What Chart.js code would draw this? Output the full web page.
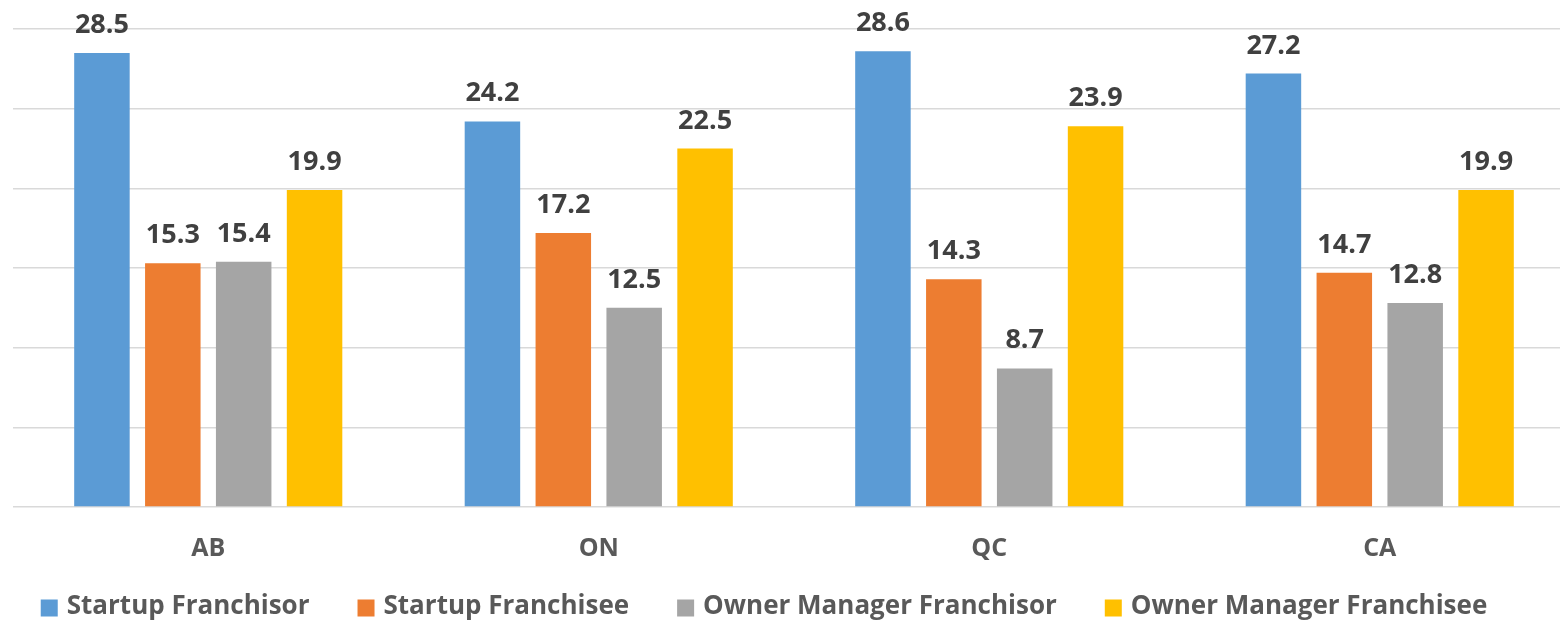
<!DOCTYPE html>
<html>
<head>
<meta charset="utf-8">
<script src="https://cdn.jsdelivr.net/npm/chart.js@4.4.1/dist/chart.umd.min.js"></script>
<style>
  html, body { margin: 0; padding: 0; background: #fff; overflow: hidden; }
</style>
</head>
<body>
<canvas id="chart" width="1576" height="626"></canvas>
<script>
const regions = ['AB', 'ON', 'QC', 'CA'];
const seriesNames = ['Startup Franchisor', 'Startup Franchisee', 'Owner Manager Franchisor', 'Owner Manager Franchisee'];
const startupFranchisor = [28.5, 24.2, 28.6, 27.2];
const startupFranchisee = [15.3, 17.2, 14.3, 14.7];
const ownerFranchisor = [15.4, 12.5, 8.7, 12.8];
const ownerFranchisee = [19.9, 22.5, 23.9, 19.9];
const barColors = ['#5B9BD5', '#ED7D31', '#A5A5A5', '#FFC000'];

const FONT = '"Open Sans", "DejaVu Sans", sans-serif';

// value labels above each bar
const barLabels = {
  id: 'barLabels',
  afterDatasetsDraw(chart) {
    const ctx = chart.ctx;
    ctx.save();
    ctx.font = 'bold 27px ' + FONT;
    ctx.fillStyle = '#404040';
    ctx.textAlign = 'center';
    ctx.textBaseline = 'alphabetic';
    chart.data.datasets.forEach((ds, i) => {
      chart.getDatasetMeta(i).data.forEach((bar, j) => {
        ctx.fillText(ds.data[j].toFixed(1), bar.x, bar.y - 20);
      });
    });
    ctx.restore();
  }
};

// legend row with wide gaps between entries (like the Excel one)
const wideLegend = {
  id: 'wideLegend',
  afterDraw(chart) {
    const ctx = chart.ctx;
    const box = 17, boxGap = 9, itemGap = 48, centerX = 764, y = 607;
    ctx.save();
    ctx.font = 'bold 26px ' + FONT;
    ctx.textBaseline = 'middle';
    ctx.textAlign = 'left';
    const items = chart.data.datasets.map(ds => ({
      text: ds.label,
      color: ds.backgroundColor,
      w: ctx.measureText(ds.label).width
    }));
    const total = items.reduce((s, it) => s + box + boxGap + it.w, 0) + itemGap * (items.length - 1);
    let x = centerX - total / 2;
    items.forEach(it => {
      ctx.fillStyle = it.color;
      ctx.fillRect(x, y - box / 2 + 1, box, box);
      ctx.fillStyle = '#595959';
      ctx.fillText(it.text, x + box + boxGap, y);
      x += box + boxGap + it.w + itemGap;
    });
    ctx.restore();
  }
};

const seriesData = [startupFranchisor, startupFranchisee, ownerFranchisor, ownerFranchisee];

new Chart(document.getElementById('chart'), {
  type: 'bar',
  data: {
    labels: regions,
    datasets: seriesNames.map((name, i) => ({
      label: name,
      data: seriesData[i],
      backgroundColor: barColors[i],
      categoryPercentage: 0.726,
      barPercentage: 0.783
    }))
  },
  options: {
    responsive: false,
    animation: false,
    layout: { padding: { top: 29, left: 13, right: 1, bottom: 35 } },
    plugins: {
      legend: { display: false },
      tooltip: { enabled: false }
    },
    scales: {
      x: {
        grid: { display: false, drawTicks: false },
        border: { display: false },
        ticks: {
          padding: 27,
          color: '#595959',
          font: { family: FONT, size: 25, weight: 'bold' }
        }
      },
      y: {
        min: 0,
        max: 30,
        ticks: { display: false, stepSize: 5 },
        grid: { color: '#d9d9d9', lineWidth: 1.5, drawTicks: false },
        border: { display: false }
      }
    }
  },
  plugins: [barLabels, wideLegend]
});
</script>
</body>
</html>
